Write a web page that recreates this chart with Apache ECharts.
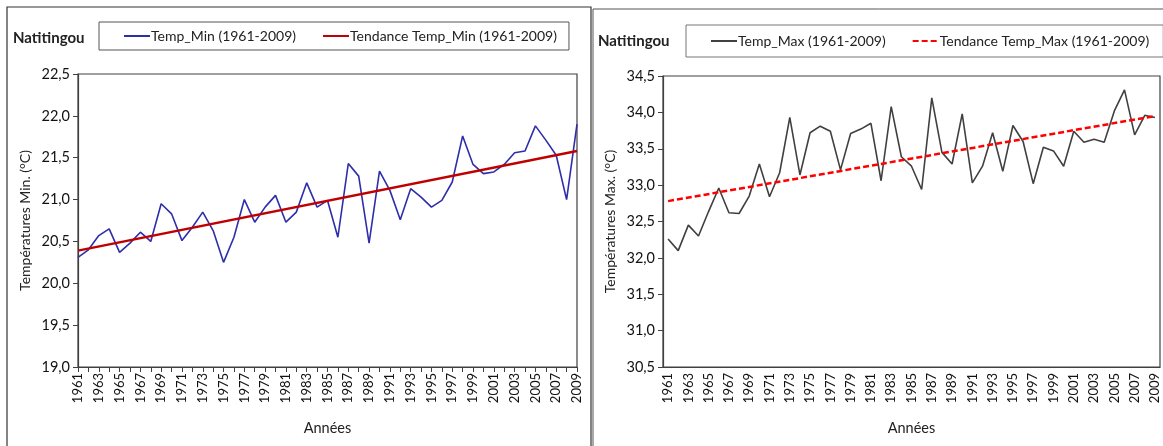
<!DOCTYPE html>
<html>
<head>
<meta charset="utf-8">
<script src="https://cdn.jsdelivr.net/npm/echarts@6/dist/echarts.min.js"></script>
<style>
html,body{margin:0;padding:0;background:#fff;}
#c{width:1163px;height:446px;}
</style>
</head>
<body>
<div id="c"></div>
<script>
const years = ['1961','1962','1963','1964','1965','1966','1967','1968','1969','1970',
'1971','1972','1973','1974','1975','1976','1977','1978','1979','1980',
'1981','1982','1983','1984','1985','1986','1987','1988','1989','1990',
'1991','1992','1993','1994','1995','1996','1997','1998','1999','2000',
'2001','2002','2003','2004','2005','2006','2007','2008','2009'];
const tempMin = [20.31,20.40,20.57,20.65,20.37,20.48,20.61,20.50,20.95,20.83,
20.51,20.67,20.85,20.63,20.25,20.55,21.00,20.73,20.91,21.05,
20.73,20.85,21.20,20.91,20.99,20.55,21.43,21.28,20.48,21.34,
21.11,20.76,21.13,21.03,20.91,20.99,21.21,21.76,21.42,21.31,
21.33,21.42,21.56,21.58,21.88,21.71,21.53,21.00,21.90];
const tempMax = [32.26,32.10,32.45,32.30,32.64,32.96,32.62,32.61,32.85,33.29,
32.84,33.17,33.93,33.14,33.72,33.81,33.74,33.21,33.71,33.77,
33.85,33.06,34.08,33.39,33.26,32.94,34.20,33.45,33.29,33.98,
33.03,33.26,33.72,33.19,33.82,33.60,33.02,33.52,33.47,33.26,
33.74,33.59,33.63,33.59,34.02,34.31,33.69,33.96,33.93];
// trend endpoints (1961, 2009)
const trendMinEnds = [20.39, 21.58];
const trendMaxEnds = [32.78, 33.95];
const minAxisTicks = {min: 19.0, max: 22.5, interval: 0.5};
const maxAxisTicks = {min: 30.5, max: 34.5, interval: 0.5};

function endsSeries(ends){
  return years.map((y,i)=> i===0 ? ends[0] : (i===years.length-1 ? ends[1] : null));
}
const FONT = 'Lato, "Open Sans", sans-serif';
const fmt = v => v.toFixed(1).replace('.', ',');

function xAxis(gi, gap){
  return {
    type:'category', gridIndex: gi, data: years, boundaryGap: gap,
    name:'Années', nameLocation:'middle', nameGap: 54,
    nameTextStyle:{fontFamily:FONT, fontSize:14.5, color:'#222'},
    axisLine:{lineStyle:{color:'#404040', width:1.2}},
    axisTick:{interval:0, length:5, lineStyle:{color:'#404040'}},
    axisLabel:{interval:1, rotate:90, fontFamily:FONT, fontSize:13, color:'#111', margin:6},
    splitLine:{show:false}
  };
}
function yAxis(gi, t, name){
  return {
    type:'value', gridIndex: gi, min:t.min, max:t.max, interval:t.interval,
    name: name, nameLocation:'middle', nameGap: 46, nameRotate: 90,
    nameTextStyle:{fontFamily:FONT, fontSize:14, color:'#222'},
    axisLine:{show:true, lineStyle:{color:'#404040', width:1.2}},
    axisTick:{show:true, length:5, lineStyle:{color:'#404040'}},
    axisLabel:{formatter: fmt, fontFamily:FONT, fontSize:14.5, color:'#111', margin:8},
    splitLine:{show:false}
  };
}

const chart = echarts.init(document.getElementById('c'), null, {renderer:'canvas'});
chart.setOption({
  animation:false,
  backgroundColor:'#fff',
  graphic:[
    {type:'rect', shape:{x:7, y:7, width:584, height:450}, style:{fill:'none', stroke:'#333', lineWidth:1.2}, silent:true, z:-1},
    {type:'rect', shape:{x:593, y:9, width:590, height:450}, style:{fill:'none', stroke:'#555', lineWidth:1}, silent:true, z:-1},
    {type:'text', left:13, top:31, style:{text:'Natitingou', font:'bold 15px '+FONT, fill:'#222'}},
    {type:'text', left:598, top:34, style:{text:'Natitingou', font:'bold 15px '+FONT, fill:'#222'}}
  ],
  legend:[
    {left:99, top:22, width:480, padding:[7,12,7,24], itemGap:26, itemWidth:26, itemHeight:2,
     borderColor:'#555', borderWidth:1, textStyle:{fontFamily:FONT, fontSize:14, color:'#222', padding:[0,0,0,-4]},
     data:['Temp_Min (1961-2009)','Tendance Temp_Min (1961-2009)']},
    {left:686, top:25, width:470, padding:[9,14,9,24], itemGap:26, itemWidth:26, itemHeight:2,
     borderColor:'#777', borderWidth:1, textStyle:{fontFamily:FONT, fontSize:14, color:'#222', padding:[0,0,0,-4]},
     data:['Temp_Max (1961-2009)','Tendance Temp_Max (1961-2009)']}
  ],
  grid:[
    {left:78, top:74, width:499, height:293, show:true, borderColor:'#404040', borderWidth:1.2, backgroundColor:'#fff'},
    {left:663, top:76, width:497, height:291, show:true, borderColor:'#404040', borderWidth:1.2, backgroundColor:'#fff'}
  ],
  xAxis:[xAxis(0,false), xAxis(1,true)],
  yAxis:[yAxis(0,minAxisTicks,'Températures Min. (°C)'), yAxis(1,maxAxisTicks,'Températures Max. (°C)')],
  series:[
    {name:'Temp_Min (1961-2009)', type:'line', xAxisIndex:0, yAxisIndex:0, data:tempMin,
     symbol:'none', lineStyle:{color:'#2e2eaa', width:1.6}, itemStyle:{color:'#2e2eaa'}},
    {name:'Tendance Temp_Min (1961-2009)', type:'line', xAxisIndex:0, yAxisIndex:0, data:endsSeries(trendMinEnds),
     connectNulls:true, symbol:'none', lineStyle:{color:'#c00000', width:2.5}, itemStyle:{color:'#c00000'}, z:3},
    {name:'Temp_Max (1961-2009)', type:'line', xAxisIndex:1, yAxisIndex:1, data:tempMax,
     symbol:'none', lineStyle:{color:'#404040', width:1.6}, itemStyle:{color:'#404040'}},
    {name:'Tendance Temp_Max (1961-2009)', type:'line', xAxisIndex:1, yAxisIndex:1, data:endsSeries(trendMaxEnds),
     connectNulls:true, symbol:'none', lineStyle:{color:'#ff0000', width:2.5, type:[6,3]}, itemStyle:{color:'#ff0000'}, z:3}
  ]
});
</script>
</body>
</html>
